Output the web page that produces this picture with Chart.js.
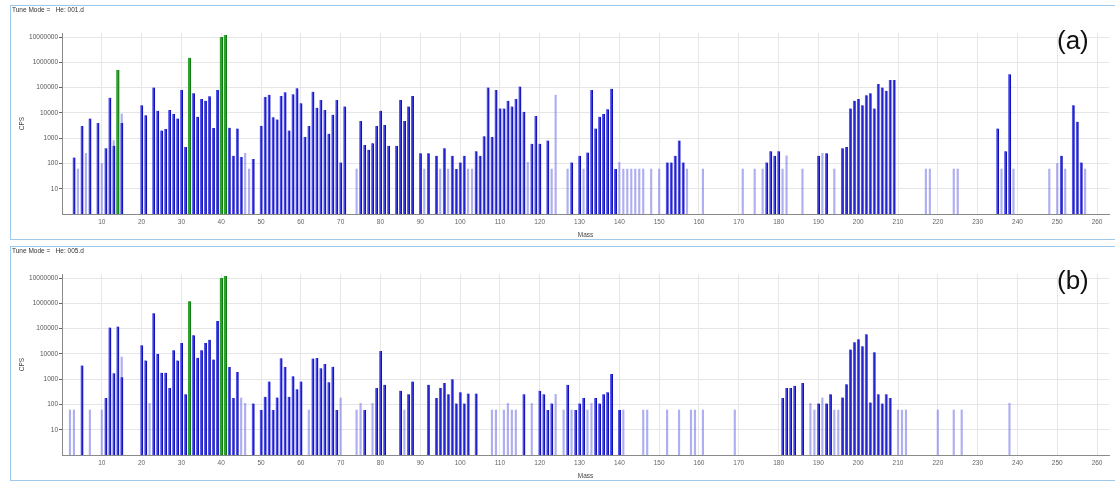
<!DOCTYPE html>
<html>
<head>
<meta charset="utf-8">
<script src="https://cdn.jsdelivr.net/npm/chart.js@4.4.1/dist/chart.umd.min.js"></script>
<style>
  html, body { margin: 0; padding: 0; background: #fff; width: 1115px; height: 481px; overflow: hidden;
    font-family: "Liberation Sans", Arial, sans-serif; }
  .panel { position: absolute; left: 10px; width: 1105px; height: 235px; box-sizing: border-box;
    border-top: 1px solid #9fc9ec; border-left: 1px solid #9fc9ec; border-bottom: 1px solid #9fc9ec; }
  #pa { top: 5px; }
  #pb { top: 246px; }
  .panel canvas { position: absolute; left: 0; top: 0; }
  .tune { position: absolute; left: 1px; top: 0; font-size: 6.5px; line-height: 8px; color: #333; white-space: pre; }
  .tag { position: absolute; left: 1057px; font-size: 26px; line-height: 26px; color: #111; }
</style>
</head>
<body>
<div class="panel" id="pa">
  <canvas id="ca" width="1104" height="233"></canvas>
  <div class="tune">Tune Mode =   He: 001.d</div>
</div>
<div class="panel" id="pb">
  <canvas id="cb" width="1104" height="233"></canvas>
  <div class="tune">Tune Mode =   He: 005.d</div>
</div>
<div class="tag" style="top:27px">(a)</div>
<div class="tag" style="top:267px">(b)</div>

<script>
// Axis ticks
const massTicks = [10, 20, 30, 40, 50, 60, 70, 80, 90, 100, 110, 120, 130, 140, 150, 160, 170, 180, 190, 200, 210, 220, 230, 240, 250, 260];
const cpsTicks = [10, 100, 1000, 10000, 100000, 1000000, 10000000];

// Spectrum (a) — He mode, 001.d
const aMajorMass = [
  3, 5, 7, 9, 11, 12, 13, 15, 20, 21,
  23, 24, 25, 26, 27, 28, 29, 30, 31, 33,
  34, 35, 36, 37, 38, 39, 42, 43, 44, 45,
  48, 50, 51, 52, 53, 54, 55, 56, 57, 58,
  59, 60, 61, 62, 63, 64, 65, 66, 67, 68,
  69, 70, 71, 75, 76, 77, 78, 79, 80, 81,
  82, 84, 85, 86, 87, 88, 90, 92, 94, 96,
  98, 99, 100, 101, 104, 105, 106, 107, 108, 109,
  110, 111, 112, 113, 114, 115, 116, 118, 119, 120,
  122, 128, 130, 132, 133, 134, 135, 136, 137, 138,
  139, 152, 153, 154, 155, 156, 177, 178, 179, 180,
  190, 192, 196, 197, 198, 199, 200, 201, 202, 203,
  204, 205, 206, 207, 208, 209, 235, 237, 238, 251,
  254, 255, 256];
const aMajorCps = [
  170, 3000, 6000, 4000, 400, 40000, 500, 4000, 20000, 8000,
  100000, 12000, 2000, 2300, 13000, 9000, 6000, 80000, 450, 60000,
  7000, 35000, 30000, 45000, 2500, 80000, 2600, 200, 2400, 180,
  150, 3100, 42000, 52000, 6700, 5500, 46000, 66000, 2000, 55000,
  95000, 24000, 1100, 3000, 69000, 16000, 32000, 13000, 1500, 8500,
  32000, 110, 18000, 4800, 540, 350, 630, 3000, 12000, 3300,
  500, 500, 32000, 4800, 18000, 46000, 250, 250, 200, 400,
  200, 60, 110, 200, 300, 200, 1200, 100000, 1100, 80000,
  15000, 15000, 30000, 18000, 35000, 110000, 11000, 600, 7500, 600,
  800, 110, 200, 270, 80000, 2400, 7000, 9000, 14000, 90000,
  60, 110, 110, 200, 800, 110, 110, 300, 200, 300,
  200, 250, 400, 450, 15000, 30000, 35000, 20000, 50000, 60000,
  15000, 140000, 100000, 75000, 200000, 200000, 2400, 300, 340000, 200,
  20000, 4500, 110];
const aMinorMass = [
  4, 6, 10, 13, 15, 46, 47, 74, 91, 95,
  97, 102, 103, 117, 123, 124, 127, 131, 140, 141,
  142, 143, 144, 145, 146, 148, 150, 157, 161, 171,
  174, 176, 181, 182, 186, 191, 194, 217, 218, 224,
  225, 236, 239, 248, 250, 252, 257];
const aMinorCps = [
  60, 250, 100, 800, 9000, 250, 60, 60, 60, 60,
  60, 60, 60, 110, 60, 50000, 60, 60, 110, 60,
  60, 60, 60, 60, 60, 60, 60, 60, 60, 60,
  60, 60, 60, 200, 60, 250, 60, 60, 60, 60,
  60, 60, 60, 60, 100, 60, 60];
const aGasMass = [14, 32, 40, 41];
const aGasCps = [500000, 1500000, 10000000, 12000000];

// Spectrum (b) — He mode, 005.d
const bMajorMass = [
  5, 11, 12, 13, 14, 15, 20, 21, 23, 24,
  25, 26, 27, 28, 29, 30, 31, 33, 34, 35,
  36, 37, 38, 39, 42, 43, 44, 48, 50, 51,
  52, 53, 54, 55, 56, 57, 58, 59, 60, 63,
  64, 65, 66, 67, 68, 69, 76, 79, 80, 81,
  85, 87, 88, 92, 94, 95, 96, 97, 98, 99,
  100, 101, 102, 104, 116, 120, 121, 122, 123, 127,
  129, 130, 131, 134, 135, 136, 137, 138, 140, 181,
  182, 183, 184, 186, 190, 192, 193, 196, 197, 198,
  199, 200, 201, 202, 203, 204, 205, 206, 207, 208];
const bMajorCps = [
  3500, 180, 110000, 1700, 120000, 1200, 22000, 5500, 400000, 10000,
  1800, 1800, 450, 14000, 5500, 27000, 250, 55000, 7000, 14000,
  27000, 36000, 6000, 200000, 3000, 180, 1900, 110, 60, 200,
  800, 60, 190, 6700, 3000, 200, 1300, 400, 800, 6500,
  6800, 2700, 4000, 750, 3100, 60, 60, 450, 13000, 600,
  350, 250, 800, 600, 180, 450, 700, 250, 1000, 110,
  300, 110, 270, 270, 250, 350, 250, 60, 110, 600,
  60, 110, 180, 180, 110, 250, 300, 1600, 60, 180,
  450, 450, 550, 700, 110, 110, 250, 190, 630, 15000,
  29000, 38000, 20000, 60000, 120, 11500, 250, 110, 250, 180];
const bMinorMass = [
  2, 3, 7, 10, 15, 22, 45, 46, 51, 62,
  70, 74, 75, 78, 86, 108, 109, 111, 112, 113,
  114, 118, 124, 126, 128, 132, 133, 141, 146, 147,
  152, 155, 158, 159, 161, 169, 188, 189, 191, 194,
  195, 210, 211, 212, 220, 224, 226, 238];
const bMinorCps = [
  60, 60, 60, 60, 7500, 110, 180, 110, 180, 60,
  180, 60, 110, 110, 60, 60, 60, 60, 110, 60,
  60, 110, 250, 60, 60, 60, 110, 60, 60, 60,
  60, 60, 60, 60, 60, 60, 110, 60, 180, 60,
  60, 60, 60, 60, 60, 60, 60, 110];
const bGasMass = [32, 40, 41];
const bGasCps = [1200000, 10000000, 12000000];

const FONT = "'Liberation Sans', Arial, sans-serif";

function pairs(xs, ys) {
  return xs.map((x, i) => ({ x: x, y: ys[i] }));
}

// Profile-style sticks: a lighter body with a dark leading edge
const stickEdge = { left: 0, right: 1.2, top: 0, bottom: 0 };

function spectrum(canvasId, major, minor, gas) {
  const ctx = document.getElementById(canvasId);
  return new Chart(ctx, {
    type: 'bar',
    data: {
      datasets: [
        { label: 'gas', data: gas, backgroundColor: '#2ea32e', borderColor: '#137813', borderWidth: stickEdge,
          borderSkipped: false, barThickness: 3, grouped: false, order: 0 },
        { label: 'major', data: major, backgroundColor: 'rgba(60,60,228,0.85)', borderColor: '#1010b8', borderWidth: stickEdge,
          borderSkipped: false, barThickness: 2.6, grouped: false, order: 1 },
        { label: 'minor', data: minor, backgroundColor: 'rgba(120,120,230,0.6)', barThickness: 1.5, grouped: false, order: 2 }
      ]
    },
    options: {
      responsive: false,
      animation: false,
      devicePixelRatio: 1,
      layout: { padding: { left: 0, top: 27, right: 6, bottom: 0 } },
      plugins: { legend: { display: false }, tooltip: { enabled: false } },
      scales: {
        x: {
          type: 'linear',
          offset: false,
          min: 0,
          max: 263,
          afterBuildTicks: s => { s.ticks = massTicks.map(v => ({ value: v })); },
          afterFit: s => { s.height = 25; },
          grid: { color: '#e6e6e6', drawTicks: false, lineWidth: 1, offset: false },
          border: { color: '#8a8a8a', width: 1 },
          ticks: { padding: 4, color: '#666', font: { family: FONT, size: 6.5 }, maxRotation: 0, autoSkip: false,
                   callback: v => String(v) },
          title: { display: true, text: 'Mass', color: '#444', font: { family: FONT, size: 6.5 }, padding: { top: -1, bottom: 0 } }
        },
        y: {
          type: 'logarithmic',
          min: 1,
          max: 14400000,
          afterBuildTicks: s => { s.ticks = cpsTicks.map(v => ({ value: v })); },
          afterFit: s => { s.width = 51; },
          grid: { color: '#e6e6e6', tickColor: '#666', tickLength: 3, lineWidth: 1 },
          border: { color: '#8a8a8a', width: 1 },
          ticks: { padding: 1, color: '#555', font: { family: FONT, size: 6.5 }, autoSkip: false,
                   callback: v => String(v) },
          title: { display: true, text: 'CPS', color: '#444', font: { family: FONT, size: 6.5 }, padding: { top: 7, bottom: 0 } }
        }
      }
    }
  });
}

spectrum('ca', pairs(aMajorMass, aMajorCps), pairs(aMinorMass, aMinorCps), pairs(aGasMass, aGasCps));
spectrum('cb', pairs(bMajorMass, bMajorCps), pairs(bMinorMass, bMinorCps), pairs(bGasMass, bGasCps));
</script>
</body>
</html>
